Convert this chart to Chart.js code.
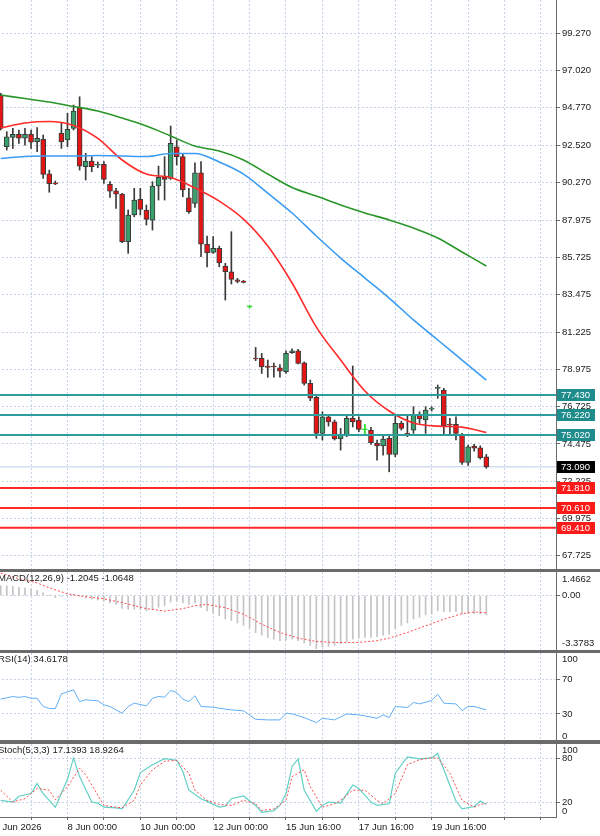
<!DOCTYPE html>
<html><head><meta charset="utf-8">
<script src="https://cdn.jsdelivr.net/npm/chart.js@4.4.1/dist/chart.umd.min.js"></script>
<style>
html,body{margin:0;padding:0;width:600px;height:836px;overflow:hidden;background:#fff;}
canvas{position:absolute;left:-6px;}
.sep{position:absolute;left:0;width:600px;background:#6b6b6b;}
</style></head><body>
<canvas id="cMain" width="606" height="569" style="top:0px"></canvas>
<div class="sep" style="top:569px;height:3px"></div>
<canvas id="cMacd" width="606" height="78" style="top:572px"></canvas>
<div class="sep" style="top:650px;height:3px"></div>
<canvas id="cRsi" width="606" height="87" style="top:653px"></canvas>
<div class="sep" style="top:740px;height:4px"></div>
<canvas id="cSto" width="606" height="92" style="top:744px"></canvas>
<script>
// ---------------- data ----------------
const timeTickIdx = [-1,5,11,17,23,29,35,41,47,53,59,65,71,77,83,89];
const timeTickLabels = ['4 Jun 2026','','8 Jun 00:00','','10 Jun 00:00','','12 Jun 00:00','','15 Jun 16:00','','17 Jun 16:00','','19 Jun 16:00','','',''];
const priceTicks = [99.270,97.020,94.770,92.520,90.270,87.975,85.725,83.475,81.225,78.975,76.725,74.475,72.225,69.975,67.725];

const opens  = [95.54,92.42,92.99,93.17,92.93,93.17,92.72,92.87,90.79,90.24,93.23,92.83,93.53,94.78,91.21,91.56,91.30,91.36,90.15,89.76,
                89.56,86.68,88.30,89.24,88.60,87.99,90.05,90.61,90.51,92.42,91.82,89.34,89.00,90.85,86.53,86.04,86.28,85.21,84.87,84.39,
                84.31,82.75,79.64,79.64,79.17,79.17,79.07,78.83,79.98,80.10,79.37,78.13,77.29,75.11,76.11,75.81,74.77,74.97,76.02,75.92,
                75.33,75.31,74.51,74.35,74.81,73.84,75.71,75.10,75.31,76.26,75.92,76.58,77.83,77.73,75.63,75.66,75.05,73.36,74.35,74.24,73.70];
const highs  = [95.65,93.33,93.53,93.43,93.53,93.43,93.57,93.13,91.01,90.35,93.83,94.44,94.94,95.44,92.02,91.82,91.50,91.52,90.31,89.91,
                89.61,88.60,89.91,89.91,88.90,90.31,91.25,91.82,93.67,92.83,92.02,89.91,91.45,91.52,87.03,86.99,86.42,85.38,87.29,84.47,
                84.35,82.82,80.30,79.94,79.54,79.36,79.27,80.10,80.22,80.18,79.43,78.33,77.42,76.42,76.15,75.92,75.41,76.15,79.18,76.11,
                75.66,75.47,74.71,75.01,75.01,76.26,75.85,76.22,76.72,76.42,76.72,76.72,78.03,77.83,76.02,76.11,75.11,74.41,74.45,74.36,73.84];
const lows   = [93.43,92.22,92.32,92.62,92.52,92.32,92.12,90.51,89.67,90.13,92.32,92.42,93.43,91.01,90.41,90.91,91.15,90.21,89.36,88.70,
                86.62,85.98,88.19,88.30,87.69,87.39,89.20,89.20,90.45,91.31,89.40,88.40,88.76,85.78,85.17,85.98,85.17,83.16,84.13,84.20,
                84.20,82.68,79.50,78.73,78.50,78.50,78.50,78.73,79.94,79.30,78.03,77.08,74.81,74.71,75.55,74.71,74.10,74.91,75.50,75.21,
                75.00,74.45,73.50,73.80,72.79,73.70,75.31,74.91,75.11,75.71,75.11,76.46,77.23,75.01,75.01,74.71,73.24,73.18,74.04,73.56,73.00];
const closes = [93.53,93.02,93.17,92.93,93.17,92.69,92.93,90.75,90.19,90.18,92.72,93.47,94.58,91.25,91.56,91.21,91.38,90.45,89.74,89.56,
                86.68,88.30,89.20,88.64,88.03,90.05,90.57,90.45,92.63,91.82,89.81,88.50,90.85,86.53,86.02,86.28,85.41,84.87,84.41,84.29,
                84.23,82.75,79.60,79.13,79.09,79.12,78.87,79.94,80.10,79.34,78.13,77.23,75.11,76.11,75.81,74.77,75.01,76.02,75.81,75.35,
                75.33,74.55,74.35,74.77,73.84,75.71,75.41,75.05,76.26,75.98,76.52,76.62,77.87,75.57,75.61,75.11,73.36,74.30,74.21,73.64,73.09];

const maIdx  = [0,4,8,12,16,20,24,28,32,36,40,44,48,52,56,60,64,68,72,76,80];
const maFast = [93.55,93.85,93.94,93.70,92.92,91.62,90.77,90.56,89.93,89.14,88.05,86.42,84.19,81.53,79.54,77.67,76.46,75.74,75.55,75.49,75.16];
const maMid  = [91.71,91.83,91.86,91.86,91.89,91.86,91.83,92.01,92.01,91.50,90.77,89.62,88.42,87.03,85.70,84.49,83.28,81.96,80.75,79.54,78.33];
const maSlow = [95.54,95.33,95.12,94.85,94.58,94.15,93.67,93.07,92.46,92.16,91.62,90.77,89.96,89.44,88.90,88.42,88.00,87.51,86.91,86.06,85.22];

const resistLevels  = [77.430,76.220,75.020];
const supportLevels = [71.810,70.610,69.410];
const bidPrice = 73.090;

const macdHist = [0.62,0.60,0.57,0.52,0.47,0.40,0.33,0.18,0.02,-0.12,-0.05,0.02,0.10,-0.05,-0.15,-0.22,-0.28,-0.35,-0.45,-0.55,
                  -0.80,-0.85,-0.85,-0.88,-0.95,-0.85,-0.72,-0.62,-0.40,-0.35,-0.45,-0.55,-0.45,-0.75,-0.95,-1.10,-1.25,-1.45,-1.55,-1.70,
                  -1.85,-2.00,-2.30,-2.45,-2.60,-2.70,-2.80,-2.75,-2.70,-2.80,-2.95,-3.10,-3.30,-3.20,-3.15,-3.10,-3.00,-2.85,-2.70,-2.65,
                  -2.60,-2.60,-2.55,-2.45,-2.40,-2.05,-1.85,-1.70,-1.45,-1.35,-1.20,-1.15,-0.95,-1.00,-1.00,-1.00,-1.15,-1.10,-1.12,-1.15,-1.2045];
const macdSigIdx = [0,3,6,8,11,14,17,20,24,27,30,32,34,37,40,43,46,49,52,55,59,62,64,67,70,73,76,78,80];
const macdSigVal = [1.40,1.05,0.79,0.48,0.11,-0.07,-0.20,-0.44,-0.81,-0.96,-0.81,-0.62,-0.55,-0.75,-1.16,-1.78,-2.29,-2.64,-2.85,-2.91,-2.91,-2.80,-2.64,-2.29,-1.88,-1.47,-1.12,-1.02,-1.0648];

const rsiIdx = [0,2,3,4,5,6,7,8,9,10,12,13,14,16,17,18,20,21,22,24,25,26,27,28,29,30,31,32,33,35,36,38,40,42,44,46,47,48,50,52,53,55,57,59,60,62,63,64,65,67,68,69,71,72,73,75,76,77,78,80];
const rsiVal = [47,50,49,50,48,48,38.5,36.2,36.2,53,57.7,44.2,46.2,45,40.4,38.5,30.8,38.5,42.3,39.2,48,50,49.2,56.9,54.6,46.9,44.2,50.8,38.5,37.7,36.5,34.6,33.5,23.8,23.1,23.1,30.8,30,25.8,20,25,23.1,30,28.8,27.7,25,28.8,25.8,38.5,37.3,43.1,41.5,45.4,52.7,42.3,41.5,33.8,38.5,38.5,34.6178];

const stochKIdx = [0,2,3,5,6,7,9,11,12,13,15,16,17,19,20,22,23,25,27,29,30,31,33,34,36,37,38,40,42,43,45,46,47,48,49,50,52,53,54,56,58,59,61,62,64,65,67,69,71,72,73,75,76,78,79,80];
const stochKVal = [22.8,20.5,28.4,32.1,46,32.1,13.5,51.6,80.9,55.3,20.5,19.1,13.5,12.6,11.2,36.7,60.9,71.6,80,77.7,62.3,36.7,25.1,21.4,13.5,14.9,25.1,28.8,15.8,6.5,8.8,15.8,32.1,69.3,79.5,36.7,7.9,15.8,20.5,19.1,43.7,39.1,20.5,15.8,18.1,60,82.3,79.5,80.9,87,64.7,21.9,11.2,14.4,21.9,17.1393];
const stochDIdx = [0,2,4,5,6,8,9,11,13,14,16,17,19,20,22,23,25,27,29,31,32,34,36,38,40,42,43,45,47,48,50,51,53,55,56,58,60,62,63,65,67,69,71,72,74,76,78,79,80];
const stochDVal = [36.7,20.5,25.1,32.1,39.1,36.7,23.7,41.4,67,57.7,29.8,15.8,13.5,12.6,22.8,43.7,64.7,76.3,77.7,60,36.7,22.8,17.2,15.8,22.8,18.1,8.8,11.2,22.8,55.3,64.7,41.4,13.5,18.1,22.8,36.7,36.7,22.8,18.1,32.1,71.6,78.6,80.9,80.9,60,22.8,13.5,17.2,18.9264];

const macdTitle = 'MACD(12,26,9) -1.2045 -1.0648';
const rsiTitle = 'RSI(14) 34.6178';
const stochTitle = 'Stoch(5,3,3) 17.1393 18.9264';

// ---------------- chart setup ----------------
const FONT = '"Liberation Sans", Arial, sans-serif';
Chart.defaults.font.family = FONT;
Chart.defaults.font.size = 9.5;
Chart.defaults.color = '#1a1a1a';
Chart.defaults.animation = false;
Chart.defaults.responsive = false;
Chart.defaults.devicePixelRatio = 1;
Chart.defaults.events = [];
Chart.defaults.plugins.legend.display = false;
Chart.defaults.plugins.tooltip.enabled = false;

const GRID = '#c7d3e7';
const AXIS = '#6b6b6b';
const X_MIN = -1.104, X_MAX = 91.48;
const Y_MAX = 101.281, Y_MIN = 66.921;

const panelText = {
  id: 'panelText',
  afterDraw(chart, args, o) {
    if (!o || !o.title) return;
    const ctx = chart.ctx, ca = chart.chartArea;
    ctx.save();
    ctx.font = '9.5px ' + FONT;
    ctx.textBaseline = 'middle';
    ctx.fillStyle = '#1a1a1a';
    ctx.fillText(o.title, 4, ca.top + o.titleOff);
    ctx.fillText(o.top, ca.right + 6, ca.top + o.topOff);
    ctx.fillText(o.bottom, ca.right + 6, ca.bottom - o.botOff);
    ctx.restore();
  }
};
const priceTags = {
  id: 'priceTags',
  afterDraw(chart, args, o) {
    if (!o || !o.tags) return;
    const ys = chart.scales.y, ctx = chart.ctx, x0 = chart.chartArea.right + 1;
    ctx.save();
    ctx.font = '9.5px ' + FONT;
    ctx.textBaseline = 'middle';
    o.tags.forEach(t => {
      const py = Math.round(ys.getPixelForValue(t.value));
      ctx.fillStyle = t.bg;
      ctx.fillRect(x0, py - 6, 38, 12);
      ctx.fillStyle = '#ffffff';
      ctx.fillText(t.value.toFixed(3), x0 + 4, py + 0.5);
    });
    ctx.restore();
  }
};
Chart.register(panelText, priceTags);

function xAxis(showLabels) {
  return {
    type: 'linear', min: X_MIN, max: X_MAX, offset: false,
    afterBuildTicks: s => { s.ticks = timeTickIdx.map(v => ({ value: v })); },
    grid: { color: GRID, offset: false, drawTicks: showLabels, tickLength: 3, tickColor: AXIS },
    border: { display: true, color: AXIS, width: 1, dash: [2, 2] },
    ticks: { display: showLabels, autoSkip: false, maxRotation: 0, minRotation: 0, align: 'start', padding: 2,
             callback: (v, i) => timeTickLabels[i] },
    afterFit: s => { s.paddingLeft = 0; s.paddingRight = 0; s.height = showLabels ? 19 : 0; }
  };
}
function yAxis(min, max, ticks, fmt) {
  return {
    position: 'right', min, max,
    afterBuildTicks: s => { s.ticks = ticks.map(v => ({ value: v })); },
    grid: { color: GRID, tickLength: 4, tickColor: AXIS },
    border: { display: true, color: AXIS, width: 1, dash: [2, 2] },
    ticks: { padding: 2, callback: fmt },
    afterFit: s => { s.width = 44; s.paddingTop = 0; s.paddingBottom = 0; }
  };
}
const pts = (xs, ys) => xs.map((x, k) => ({ x, y: ys[k] }));
const lineDs = (data, color, width, extra) => Object.assign({ type: 'line', data, borderColor: color, borderWidth: width, pointRadius: 0, fill: false }, extra || {});
const levelDs = (v, color, width) => lineDs([{ x: X_MIN, y: v }, { x: X_MAX, y: v }], color, width, { order: 1 });

// ---------------- main price chart ----------------
const idx = opens.map((_, i) => i);
const UP = '#39a06d', DN = '#e31515', DOJI = '#22dd22', OUTLINE = '#3a3a3a';
const bodyColor = i => closes[i] > opens[i] ? UP : (closes[i] < opens[i] ? DN : DOJI);
const lineColor = i => closes[i] === opens[i] ? DOJI : OUTLINE;

new Chart(document.getElementById('cMain'), {
  type: 'bar',
  data: { datasets: [
    ...resistLevels.map(v => levelDs(v, '#2f9d9d', 2)),
    ...supportLevels.map(v => levelDs(v, '#ff2a2a', 2)),
    lineDs([{ x: X_MIN, y: bidPrice }, { x: X_MAX, y: bidPrice }], '#bccde4', 1, { order: 7 }),
    lineDs(pts(maIdx, maSlow), '#2a962a', 1.6, { order: 2, cubicInterpolationMode: 'monotone' }),
    lineDs(pts(maIdx, maMid), '#3a9cf2', 1.6, { order: 2, cubicInterpolationMode: 'monotone' }),
    lineDs(pts(maIdx, maFast), '#ff2b2b', 1.6, { order: 2, cubicInterpolationMode: 'monotone' }),
    { data: idx.map(i => ({ x: i, y: [lows[i], highs[i]] })), backgroundColor: idx.map(lineColor),
      barThickness: 1, grouped: false, order: 6 },
    { data: idx.map(i => ({ x: i, y: [opens[i], closes[i]] })), backgroundColor: idx.map(bodyColor),
      borderColor: idx.map(lineColor), borderWidth: 1, borderSkipped: false, barThickness: 5, minBarLength: 1,
      grouped: false, order: 5 }
  ]},
  options: {
    scales: { x: xAxis(false), y: yAxis(Y_MIN, Y_MAX, priceTicks, v => v.toFixed(3)) },
    plugins: { priceTags: { tags: [
      ...resistLevels.map(v => ({ value: v, bg: '#1f8c8c' })),
      { value: bidPrice, bg: '#000000' },
      ...supportLevels.map(v => ({ value: v, bg: '#ff1a1a' }))
    ] } }
  }
});

// ---------------- MACD ----------------
new Chart(document.getElementById('cMacd'), {
  type: 'bar',
  data: { datasets: [
    lineDs(pts(macdSigIdx, macdSigVal), '#ff4a4a', 1, { borderDash: [2, 2], order: 1 }),
    { data: macdHist.map((v, i) => ({ x: i, y: v })), backgroundColor: '#c4c4c4', barThickness: 1, grouped: false, order: 2 }
  ]},
  options: {
    scales: { x: xAxis(false), y: yAxis(-3.3783, 1.4662, [0], () => '0.00') },
    plugins: { panelText: { title: macdTitle, titleOff: 6, top: '1.4662', topOff: 7, bottom: '-3.3783', botOff: 7 } }
  }
});

// ---------------- RSI ----------------
new Chart(document.getElementById('cRsi'), {
  type: 'line',
  data: { datasets: [ lineDs(pts(rsiIdx, rsiVal), '#62aef6', 1) ] },
  options: {
    scales: { x: xAxis(false), y: yAxis(0, 100, [70, 30], v => String(v)) },
    plugins: { panelText: { title: rsiTitle, titleOff: 6, top: '100', topOff: 6, bottom: '0', botOff: 4 } }
  }
});

// ---------------- Stochastic ----------------
new Chart(document.getElementById('cSto'), {
  type: 'line',
  data: { datasets: [
    lineDs(pts(stochDIdx, stochDVal), '#ff4a4a', 1, { borderDash: [2, 2] }),
    lineDs(pts(stochKIdx, stochKVal), '#62d0c6', 1.2)
  ]},
  options: {
    scales: { x: xAxis(true), y: yAxis(0, 100, [80, 20], v => String(v)) },
    plugins: { panelText: { title: stochTitle, titleOff: 6, top: '100', topOff: 6, bottom: '0', botOff: 6 } }
  }
});
</script>
</body></html>
